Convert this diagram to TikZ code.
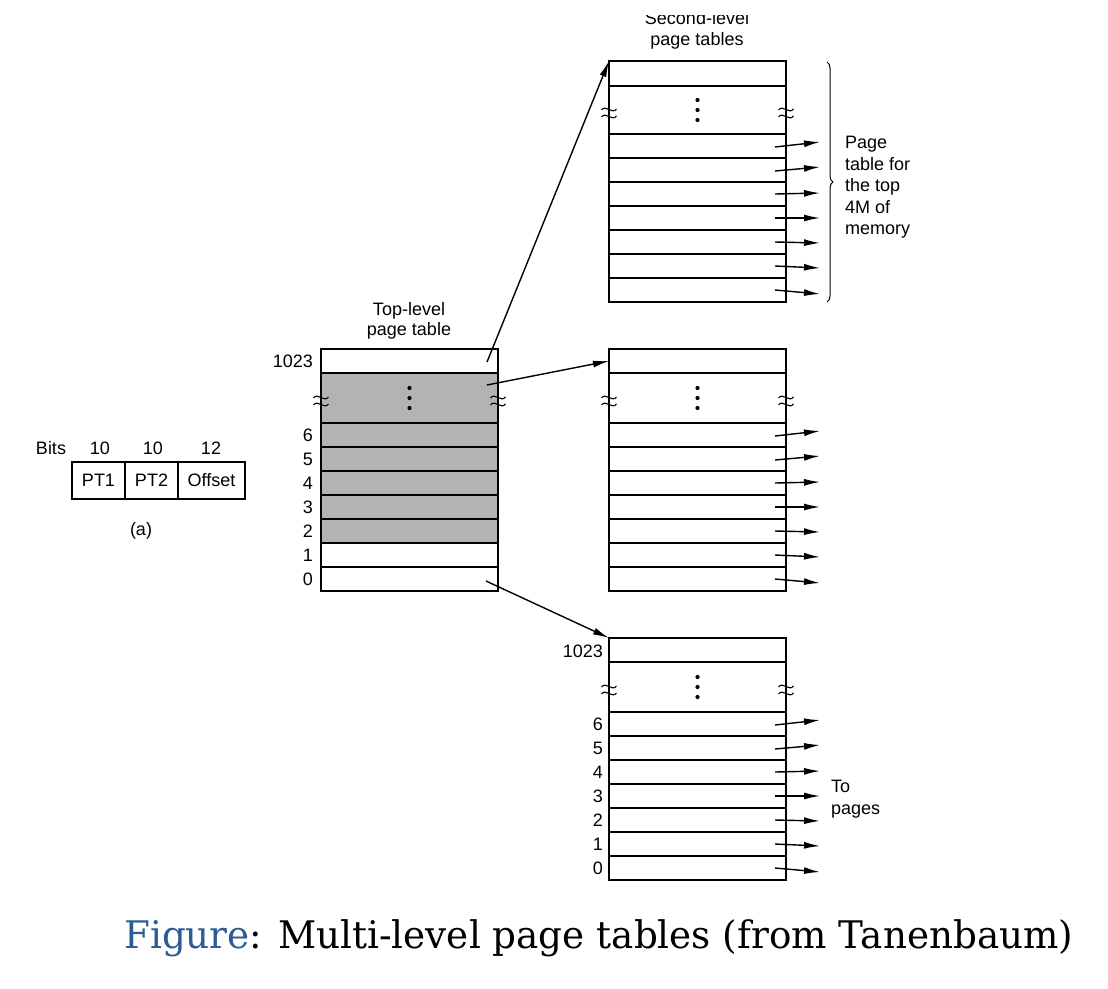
\documentclass[tikz,border=0pt]{standalone}
\usepackage{fontspec}
\setmainfont{Liberation Sans}
\newfontfamily\capfont{DejaVu Serif}
\usetikzlibrary{arrows.meta,decorations.pathreplacing,calc}
\definecolor{figblue}{HTML}{2B5C95}
\definecolor{cellgray}{HTML}{B3B3B3}
\tikzset{
  cell/.style={draw,line width=1.5pt,inner sep=0pt,outer sep=0pt,anchor=north west,minimum width=177pt},
  lbl/.style={font=\fontsize{18}{21.5}\selectfont,inner sep=0pt},
  numlbl/.style={lbl,anchor=east},
  arr/.style={line width=1.4pt,-{Latex[length=16pt,width=7pt]}},
  squig/.pic={
    \draw[line width=1.1pt] (-7.5,-2) .. controls (-3,-8) and (3,3) .. (7.5,-3);
    \draw[line width=1.1pt] (-7.5,5) .. controls (-3,-1) and (3,10) .. (7.5,4);
  }
}
% #1 prefix, #2 x, #3 ytop, #4 top row height, #5 dots height, #6 row height, #7 rows >= #7 grey, #8 dots fill
\newcommand\ptable[8]{%
  \node[cell,minimum height=#4pt] (#1-top) at (#2,#3) {};
  \node[cell,minimum height=#5pt,fill=#8] (#1-dots) at (#1-top.south west) {};
  \foreach \i/\p in {6/dots,5/6,4/5,3/4,2/3,1/2,0/1}{%
    \ifnum\i<#7 \def\fc{white}\else\def\fc{cellgray}\fi
    \node[cell,minimum height=#6pt,fill=\fc] (#1-\i) at (#1-\p.south west) {};
  }
  \fill ($(#1-dots.center)+(0,-10)$) circle (2.1);
  \fill ($(#1-dots.center)+(0,0)$) circle (2.1);
  \fill ($(#1-dots.center)+(0,10)$) circle (2.1);
  \pic at ($(#1-dots.west)+(0,2)$) {squig};
  \pic at ($(#1-dots.east)+(0,2)$) {squig};
}
\newcommand\rowarrows[1]{%
  \foreach \i/\a/\b in {6/1/-4,5/1/-3,4/0/-1,3/0/0,2/0/1,1/0/2,0/0/4}{%
    \coordinate (#1-e\i) at ($(#1-\i.east)+(34,\b)$);
    \draw[arr] ($(#1-\i.east)+(-11,\a)$) -- (#1-e\i);
  }
}
\begin{document}
\begin{tikzpicture}[x=1pt,y=-1pt]
\clip (0,0) rectangle (1108,988);
\fill[white] (0,0) rectangle (1108,988);

% address format (a)
\node[lbl] (bits) at (51,448) {Bits};
\node[draw,line width=1.4pt,minimum width=53pt,minimum height=37pt,inner sep=0pt,font=\fontsize{18}{21.5}\selectfont] (pt1) at (98.5,480.5) {PT1};
\node[draw,line width=1.4pt,minimum width=53pt,minimum height=37pt,inner sep=0pt,font=\fontsize{18}{21.5}\selectfont] (pt2) at (151.5,480.5) {PT2};
\node[draw,line width=1.4pt,minimum width=67pt,minimum height=37pt,inner sep=0pt,font=\fontsize{18}{21.5}\selectfont] (off) at (211.5,480.5) {Offset};
\node[lbl] (b1) at (100,448) {10};
\node[lbl] (b2) at (153,448) {10};
\node[lbl] (b3) at (211,448) {12};
\node[lbl] (a) at (141,531) {(a)};

% tables
\ptable{T}{321}{349}{24}{50}{24}{2}{cellgray}
\ptable{S1}{609}{61}{25}{48}{24}{7}{white}
\ptable{S2}{609}{349}{24}{50}{24}{7}{white}
\ptable{S3}{609}{638}{24}{50}{24}{7}{white}

\rowarrows{S1}
\rowarrows{S2}
\rowarrows{S3}

% top-level labels
\node[lbl,anchor=base] (tl1) at (409,315) {Top-level};
\node[lbl,anchor=base] (tl2) at (409,335) {page table};
\node[numlbl] (T-l1023) at (313,361) {1023};
\foreach \i in {6,5,4,3,2,1,0}{\node[numlbl] (T-l\i) at ($(T-\i.west)+(-8,0)$) {\i};}

\node[numlbl] (S3-l1023) at (603,651) {1023};
\foreach \i in {6,5,4,3,2,1,0}{\node[numlbl] (S3-l\i) at ($(S3-\i.west)+(-6,0)$) {\i};}

% second-level title (top cut off)
\node[lbl,anchor=base] (sl1) at (697,24) {Second-level};
\node[lbl,anchor=base] (sl2) at (697,45) {page tables};
\fill[white] (560,0) rectangle (840,14.5);

% pointers from top-level table
\draw[arr] ($(T-top.east)+(-11,1)$) -- (S1-top.north west);
\draw[arr] ($(T-dots.east)+(-11,-13)$) -- (S2-top.west);
\draw[arr] ($(T-0.east)+(-12,2)$) -- (S3-top.north west);

% brace and notes
\coordinate (brA) at (827,62);
\coordinate (brB) at (827,302);
\draw[line width=1pt,decorate,decoration={brace,amplitude=6pt}] (brA) -- (brB);
\node[lbl,align=left,anchor=north west] (note) at (845,136) {Page\\table for\\the top\\4M of\\memory};
\node[lbl,align=left,anchor=north west] (topages) at (831,780) {To\\pages};

% caption
\node[anchor=base west,inner sep=0pt,font=\capfont\fontsize{38}{46}\selectfont] (cap) at (124,948) {\resizebox{949pt}{\height}{{\color{figblue}Figure}: Multi-level page tables (from Tanenbaum)}};
\end{tikzpicture}
\end{document}
